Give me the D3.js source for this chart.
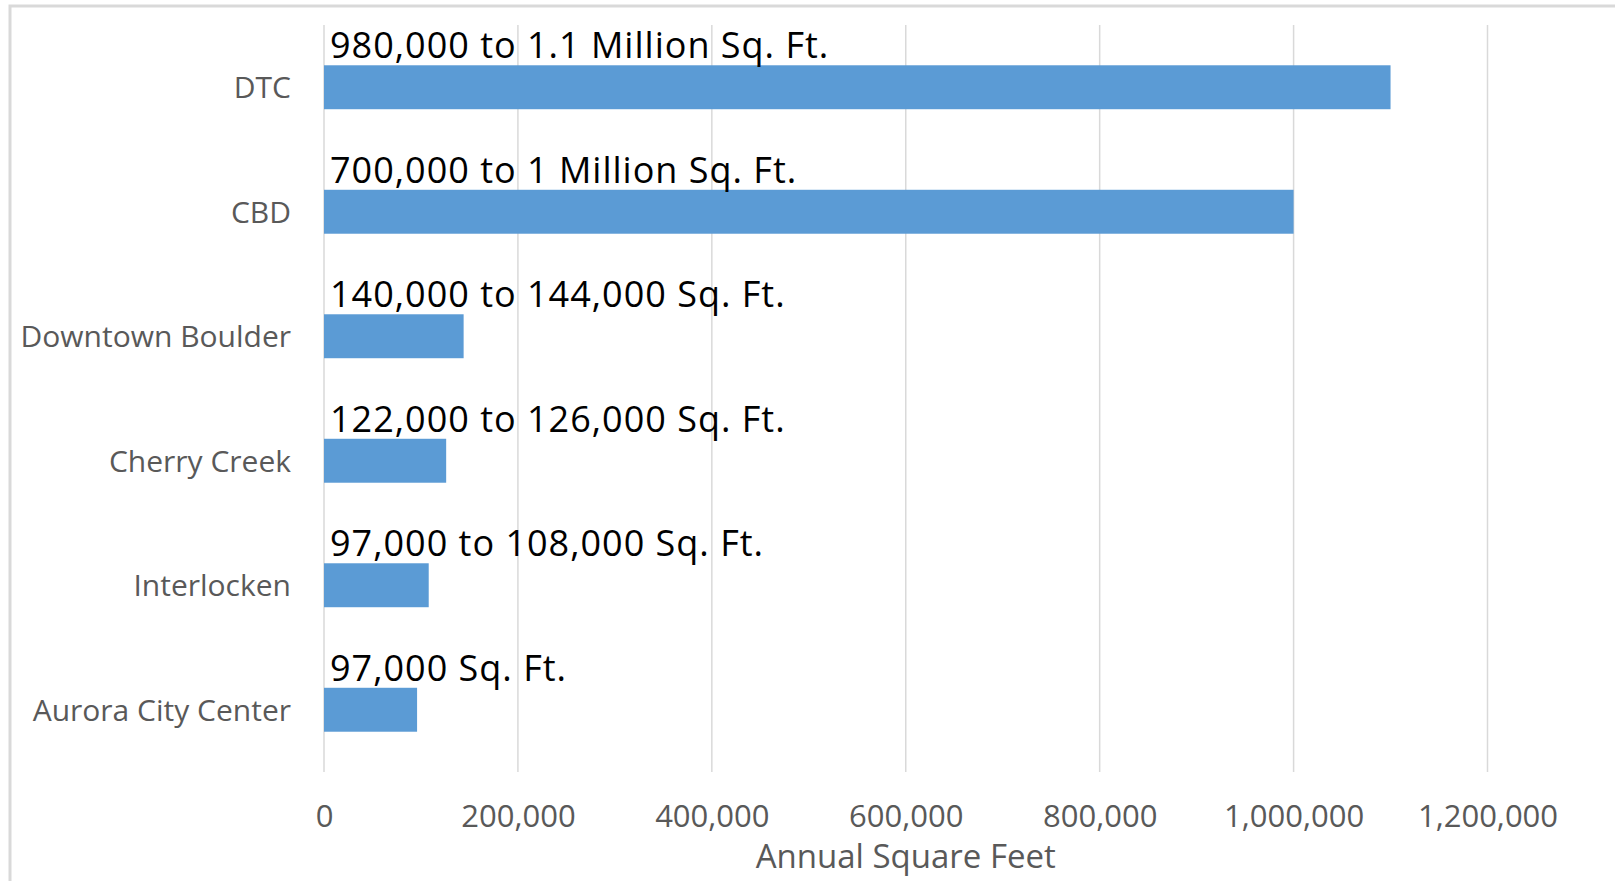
<!DOCTYPE html>
<html>
<head>
<meta charset="utf-8">
<script src="https://cdn.jsdelivr.net/npm/d3@7"></script>
<style>
  body { margin: 0; background: #fff; }
  svg { display: block; }
</style>
</head>
<body>
<div id="chart"></div>
<script>
const categories = ["DTC", "CBD", "Downtown Boulder", "Cherry Creek", "Interlocken", "Aurora City Center"];
const values = [1100000, 1000000, 144000, 126000, 108000, 96000];
const rangeLabels = [
    "980,000 to 1.1 Million Sq. Ft.",
    "700,000 to 1 Million Sq. Ft.",
    "140,000 to 144,000 Sq. Ft.",
    "122,000 to 126,000 Sq. Ft.",
    "97,000 to 108,000 Sq. Ft.",
    "97,000 Sq. Ft."
];
const xTicks = [0, 200000, 400000, 600000, 800000, 1000000, 1200000];
const xTitle = "Annual Square Feet";

const width = 1615, height = 881;
const margin = { top: 25, right: 127.5, bottom: 109, left: 324 };

const svg = d3.select("#chart")
    .append("svg")
    .attr("width", width)
    .attr("height", height);

// outer frame (only top and left edges are visible in the picture)
svg.append("path")
    .attr("d", `M10,${height} V6 H${width}`)
    .attr("fill", "none")
    .attr("stroke", "#d9d9d9")
    .attr("stroke-width", 3);

const x = d3.scaleLinear()
    .domain([0, 1200000])
    .range([margin.left, width - margin.right]);

const y = d3.scaleBand()
    .domain(categories)
    .range([margin.top, height - margin.bottom])
    .paddingInner(0.647)
    .paddingOuter(0.3235);

// vertical gridlines
svg.append("g")
    .selectAll("line")
    .data(xTicks)
    .enter()
    .append("line")
    .attr("x1", d => x(d))
    .attr("x2", d => x(d))
    .attr("y1", margin.top)
    .attr("y2", height - margin.bottom)
    .attr("stroke", "#d9d9d9")
    .attr("stroke-width", 1.5);

// bottom axis labels
const xAxis = svg.append("g")
    .attr("transform", `translate(0,${height - margin.bottom})`)
    .call(d3.axisBottom(x).tickValues(xTicks).tickFormat(d3.format(",")).tickSize(0).tickPadding(0));
xAxis.select(".domain").remove();
xAxis.selectAll("text")
    .attr("dy", null)
    .attr("y", 55)
    .style("font-family", "'Open Sans', sans-serif")
    .style("font-size", "31px")
    .style("fill", "#595959");

// category labels
const yAxis = svg.append("g")
    .attr("transform", `translate(${margin.left},0)`)
    .call(d3.axisLeft(y).tickSize(0).tickPadding(33));
yAxis.select(".domain").remove();
yAxis.selectAll("text")
    .attr("dy", "0.36em")
    .style("font-family", "'Open Sans', sans-serif")
    .style("font-size", "30px")
    .style("fill", "#595959");

svg.selectAll(".bar")
    .data(values)
    .enter()
    .append("rect")
    .attr("class", "bar")
    .attr("x", x(0))
    .attr("y", (d, i) => y(categories[i]))
    .attr("width", d => x(d) - x(0))
    .attr("height", y.bandwidth())
    .attr("fill", "#5b9bd5");

svg.selectAll(".range-label")
    .data(rangeLabels)
    .enter()
    .append("text")
    .attr("class", "range-label")
    .attr("x", x(0) + 6)
    .attr("y", (d, i) => y(categories[i]) - 7)
    .text(d => d)
    .style("font-family", "'Open Sans', sans-serif")
    .style("font-size", "36px")
    .style("letter-spacing", "1px")
    .style("fill", "#000");

svg.append("text")
    .attr("x", (x(0) + x(1200000)) / 2)
    .attr("y", 868)
    .attr("text-anchor", "middle")
    .text(xTitle)
    .style("font-family", "'Open Sans', sans-serif")
    .style("font-size", "33px")
    .style("fill", "#595959");
</script>
</body>
</html>
